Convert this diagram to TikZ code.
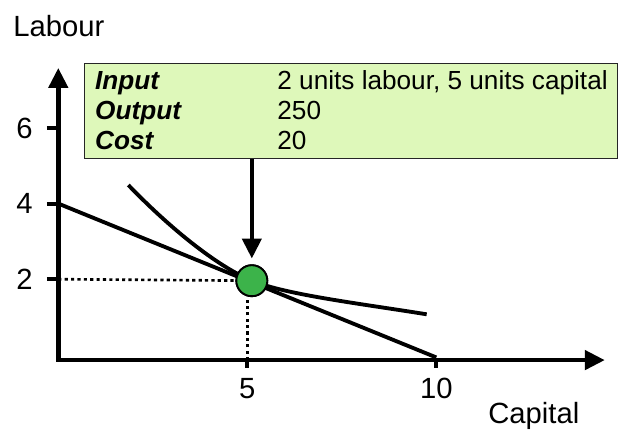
\documentclass[tikz,border=0pt]{standalone}
\usepackage{fontspec}
\setmainfont{Liberation Sans}
\usetikzlibrary{arrows.meta}
\definecolor{boxgreen}{RGB}{222,248,186}
\definecolor{dotgreen}{RGB}{60,179,74}
\begin{document}
\begin{tikzpicture}[
  >={Triangle[length=0.53cm,width=0.5cm]},
  axis/.style={line width=3.6pt},
  curve/.style={line width=2.9pt},
  guide/.style={line width=2pt, dash pattern=on 2.4pt off 2.4pt},
  ticklab/.style={inner sep=0pt, font=\fontsize{22}{26}\selectfont},
  infobox/.style={draw=black!85, line width=1.1pt, fill=boxgreen, inner sep=0pt},
  infotext/.style={inner sep=0pt, anchor=base west, font=\fontsize{19.7}{23}\selectfont},
  infolab/.style={infotext, font=\fontsize{19.7}{23}\selectfont\bfseries\itshape}]
  \useasboundingbox (-1.542,-1.989) rectangle (14.807,9.386);
  \coordinate (O) at (0,-0.14);
  \coordinate (ytop) at (0,7.59);
  \coordinate (xend) at (14.46,-0.14);
  \node[draw, circle, fill=dotgreen, line width=1.4pt, minimum size=0.82cm, inner sep=0pt] (opt) at (5.12,1.96) {};
  % guides to the chosen point
  \draw[guide] (0,2) -- (opt.center);
  \draw[guide] (5,-0.14) -- (5,1.96);
  % isocost line and isoquant
  \draw[curve] (0,4) -- (10,-0.07);
  \draw[curve] (1.852,4.492) .. controls (3.1,3.2) and (4.3,2.3) .. (opt.center)
    .. controls (6.02,1.59) and (7.946,1.36) .. (9.746,1.071);
  \draw[axis, <->] (ytop) -- (O) -- (xend);
  \foreach \y in {2,4,6} {
    \draw[line width=3pt] (-0.3,\y) -- (0,\y);
    \node[ticklab, anchor=east] (ty\y) at (-0.67,\y) {\y};
  }
  \foreach \x in {5,10} {
    \draw[line width=3.3pt] (\x,-0.14) -- (\x,-0.35);
    \node[ticklab, anchor=north] (tx\x) at (\x,-0.614) {\x};
  }
  \node[ticklab, anchor=base west] (ylab) at (-1.198,8.415) {Labour};
  \node[ticklab, anchor=base west] (xlab) at (11.37,-1.81) {Capital};
  \node[draw, circle, fill=dotgreen, line width=1.4pt, minimum size=0.82cm, inner sep=0pt] at (opt) {};
  % info box
  \node[infobox, anchor=north west, minimum width=14.1cm, minimum height=2.51cm] (info) at (0.68,7.72) {};
  \foreach \lab/\val [count=\i] in {Input/{2 units labour, 5 units capital}, Output/250, Cost/20} {
    \node[infolab] (lab\i) at (0.97,{7.02-0.793*(\i-1)}) {\lab};
    \node[infotext] (val\i) at (5.79,{7.02-0.793*(\i-1)}) {\val};
  }
  \draw[->, line width=3.4pt] (info.south -| opt) -- ([yshift=0.15cm]opt.north);
\end{tikzpicture}
\end{document}
